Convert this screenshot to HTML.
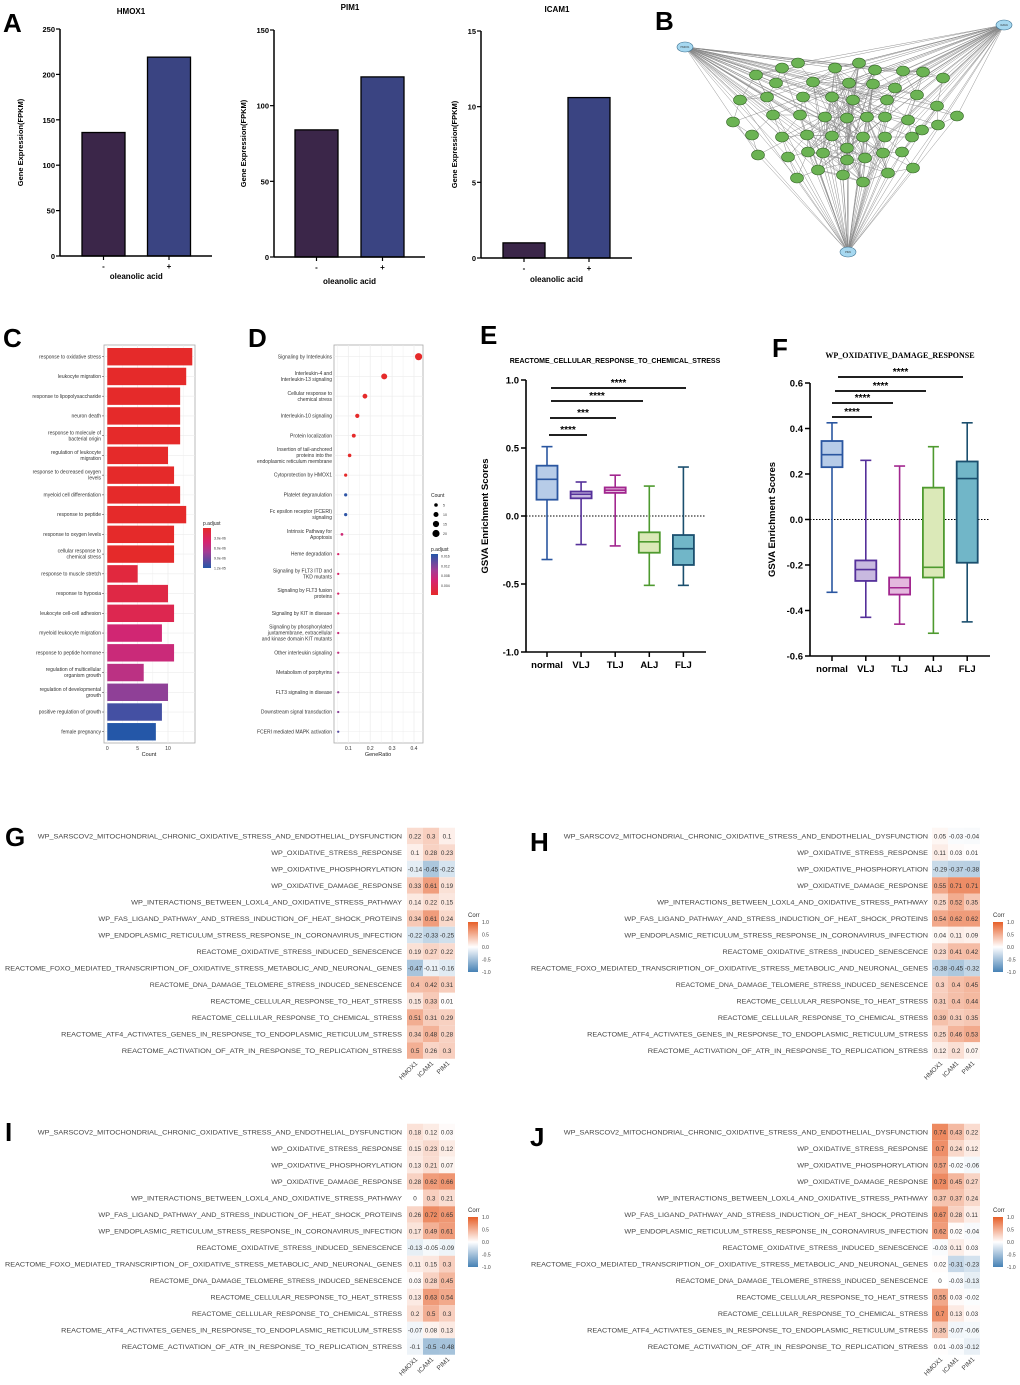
<!DOCTYPE html>
<html><head><meta charset="utf-8">
<style>
html,body{margin:0;padding:0;background:#fff;}
svg{display:block;font-family:"Liberation Sans",Arial,sans-serif;}
</style></head>
<body>
<svg id="fig" width="1020" height="1385" viewBox="0 0 1020 1385" xmlns="http://www.w3.org/2000/svg">
<defs>
<linearGradient id="gradC" x1="0" y1="0" x2="0" y2="1">
<stop offset="0" stop-color="#e52a2a"/><stop offset="0.35" stop-color="#d62470"/><stop offset="0.6" stop-color="#a33c94"/><stop offset="1" stop-color="#2457a8"/>
</linearGradient>
<linearGradient id="gradD" x1="0" y1="1" x2="0" y2="0">
<stop offset="0" stop-color="#e52a2a"/><stop offset="0.35" stop-color="#d62470"/><stop offset="0.6" stop-color="#a33c94"/><stop offset="1" stop-color="#2457a8"/>
</linearGradient>
<linearGradient id="gradCorr" x1="0" y1="0" x2="0" y2="1">
<stop offset="0" stop-color="#e65f28"/><stop offset="0.5" stop-color="#ffffff"/><stop offset="1" stop-color="#4682b4"/>
</linearGradient>
</defs>
</svg>
<script>
// ---------- DATA ----------
const aGenes=['HMOX1','PIM1','ICAM1'];
const aCats=['-','+'];
const aHmox=[136,219];
const aPim=[84,119];
const aIcam=[1,10.6];
const aTicksHmox=[0,50,100,150,200,250];
const aTicksPim=[0,50,100,150];
const aTicksIcam=[0,5,10,15];

const cTerms=[['response to oxidative stress'],['leukocyte migration'],['response to lipopolysaccharide'],['neuron death'],['response to molecule of','bacterial origin'],['regulation of leukocyte','migration'],['response to decreased oxygen','levels'],['myeloid cell differentiation'],['response to peptide'],['response to oxygen levels'],['cellular response to','chemical stress'],['response to muscle stretch'],['response to hypoxia'],['leukocyte cell-cell adhesion'],['myeloid leukocyte migration'],['response to peptide hormone'],['regulation of multicellular','organism growth'],['regulation of developmental','growth'],['positive regulation of growth'],['female pregnancy']];
const cCounts=[14,13,12,12,12,10,11,12,13,11,11,5,10,11,9,11,6,10,9,8];
const cPadj=[1e-6,1e-6,1e-6,1e-6,1e-6,1e-6,1e-6,1e-6,1e-6,1e-6,1e-6,2.6e-6,3e-6,3.6e-6,5.6e-6,6e-6,6.8e-6,8.8e-6,1.14e-5,1.25e-5];
const cTicks=[0,5,10];
const cLegTicks=['3.0e-06','6.0e-06','9.0e-06','1.2e-05'];

const dTerms=[['Signaling by Interleukins'],['Interleukin-4 and','Interleukin-13 signaling'],['Cellular response to','chemical stress'],['Interleukin-10 signaling'],['Protein localization'],['Insertion of tail-anchored','proteins into the','endoplasmic reticulum membrane'],['Cytoprotection by HMOX1'],['Platelet degranulation'],['Fc epsilon receptor (FCERI)','signaling'],['Intrinsic Pathway for','Apoptosis'],['Heme degradation'],['Signaling by FLT3 ITD and','TKD mutants'],['Signaling by FLT3 fusion','proteins'],['Signaling by KIT in disease'],['Signaling by phosphorylated','juxtamembrane, extracellular','and kinase domain KIT mutants'],['Other interleukin signaling'],['Metabolism of porphyrins'],['FLT3 signaling in disease'],['Downstream signal transduction'],['FCERI mediated MAPK activation']];
const dRatio=[0.421,0.264,0.176,0.141,0.125,0.106,0.088,0.088,0.088,0.071,0.054,0.054,0.054,0.054,0.054,0.054,0.054,0.054,0.054,0.054];
const dCount=[20,14,9,7,6,5,4,4,4,3,2,2,2,2,2,2,2,2,2,2];
const dPadj=[0.002,0.002,0.002,0.002,0.002,0.002,0.002,0.017,0.017,0.008,0.007,0.007,0.007,0.007,0.0085,0.009,0.0115,0.012,0.0125,0.015];
const dTicks=[0.1,0.2,0.3,0.4];
const dCountLeg=[5,10,15,20];
const dPadjLeg=[0.016,0.012,0.008,0.004];

const boxCats=['normal','VLJ','TLJ','ALJ','FLJ'];
const eMin=[-0.32,-0.21,-0.22,-0.51,-0.51];
const eQ1=[0.12,0.13,0.17,-0.27,-0.36];
const eMed=[0.27,0.16,0.19,-0.19,-0.24];
const eQ3=[0.37,0.18,0.21,-0.12,-0.14];
const eMax=[0.51,0.25,0.30,0.22,0.36];
const eTicks=[1.0,0.5,0.0,-0.5,-1.0];
const fMin=[-0.32,-0.43,-0.46,-0.50,-0.45];
const fQ1=[0.23,-0.27,-0.33,-0.255,-0.19];
const fMed=[0.285,-0.22,-0.30,-0.21,0.18];
const fQ3=[0.345,-0.18,-0.255,0.14,0.255];
const fMax=[0.425,0.26,0.235,0.32,0.425];
const fTicks=[0.6,0.4,0.2,0.0,-0.2,-0.4,-0.6];
const eSig=[[0,1,'****'],[0,2,'***'],[0,3,'****'],[0,4,'****']];
const fSig=[[0,1,'****'],[0,2,'****'],[0,3,'****'],[0,4,'****']];

const hmRows=['WP_SARSCOV2_MITOCHONDRIAL_CHRONIC_OXIDATIVE_STRESS_AND_ENDOTHELIAL_DYSFUNCTION','WP_OXIDATIVE_STRESS_RESPONSE','WP_OXIDATIVE_PHOSPHORYLATION','WP_OXIDATIVE_DAMAGE_RESPONSE','WP_INTERACTIONS_BETWEEN_LOXL4_AND_OXIDATIVE_STRESS_PATHWAY','WP_FAS_LIGAND_PATHWAY_AND_STRESS_INDUCTION_OF_HEAT_SHOCK_PROTEINS','WP_ENDOPLASMIC_RETICULUM_STRESS_RESPONSE_IN_CORONAVIRUS_INFECTION','REACTOME_OXIDATIVE_STRESS_INDUCED_SENESCENCE','REACTOME_FOXO_MEDIATED_TRANSCRIPTION_OF_OXIDATIVE_STRESS_METABOLIC_AND_NEURONAL_GENES','REACTOME_DNA_DAMAGE_TELOMERE_STRESS_INDUCED_SENESCENCE','REACTOME_CELLULAR_RESPONSE_TO_HEAT_STRESS','REACTOME_CELLULAR_RESPONSE_TO_CHEMICAL_STRESS','REACTOME_ATF4_ACTIVATES_GENES_IN_RESPONSE_TO_ENDOPLASMIC_RETICULUM_STRESS','REACTOME_ACTIVATION_OF_ATR_IN_RESPONSE_TO_REPLICATION_STRESS'];
const hmCols=['HMOX1','ICAM1','PIM1'];
const gVals=[[0.22,0.3,0.1],[0.1,0.28,0.23],[-0.14,-0.45,-0.22],[0.33,0.61,0.19],[0.14,0.22,0.15],[0.34,0.61,0.24],[-0.22,-0.33,-0.25],[0.19,0.27,0.22],[-0.47,-0.11,-0.16],[0.4,0.42,0.31],[0.15,0.33,0.01],[0.51,0.31,0.29],[0.34,0.48,0.28],[0.5,0.26,0.3]];
const hVals=[[0.05,-0.03,-0.04],[0.11,0.03,0.01],[-0.29,-0.37,-0.38],[0.55,0.71,0.71],[0.25,0.52,0.35],[0.54,0.62,0.62],[0.04,0.11,0.09],[0.23,0.41,0.42],[-0.38,-0.45,-0.32],[0.3,0.4,0.45],[0.31,0.4,0.44],[0.39,0.31,0.35],[0.25,0.46,0.53],[0.12,0.2,0.07]];
const iVals=[[0.18,0.12,0.03],[0.15,0.23,0.12],[0.13,0.21,0.07],[0.28,0.62,0.66],[0,0.3,0.21],[0.26,0.72,0.65],[0.17,0.49,0.61],[-0.13,-0.05,-0.09],[0.11,0.15,0.3],[0.03,0.28,0.45],[0.13,0.63,0.54],[0.2,0.5,0.3],[-0.07,0.08,0.13],[-0.1,-0.5,-0.48]];
const jVals=[[0.74,0.43,0.22],[0.7,0.24,0.12],[0.57,-0.02,-0.06],[0.73,0.45,0.27],[0.37,0.37,0.24],[0.67,0.28,0.11],[0.62,0.02,-0.04],[-0.03,0.11,0.03],[0.02,-0.31,-0.23],[0,-0.03,-0.13],[0.55,0.03,-0.02],[0.7,0.13,0.03],[0.35,-0.07,-0.06],[0.01,-0.03,-0.12]];
const corrLeg=[1.0,0.5,0.0,-0.5,-1.0];

// ---------- HELPERS ----------
const NS='http://www.w3.org/2000/svg';
const svg=document.getElementById('fig');
function mk(tag,attrs,name,parent,text){
  const el=document.createElementNS(NS,tag);
  for(const k in attrs) el.setAttribute(k,attrs[k]);
  
  
  if(text!==undefined) el.textContent=text;
  (parent||svg).appendChild(el);
  return el;
}
function grp(name){return mk('g',{},name);}
function panelLetter(t,x,y){mk('text',{x:x,y:y,'font-size':26,'font-weight':'bold',fill:'#000'},'panel-label-'+t.toLowerCase(),null,t);}
function lerp(a,b,t){return a+(b-a)*t;}
function hex(c){return [parseInt(c.substr(1,2),16),parseInt(c.substr(3,2),16),parseInt(c.substr(5,2),16)];}
const stops=[[0,'#e52a2a'],[0.35,'#d62470'],[0.6,'#a33c94'],[1,'#2457a8']];
function ramp(t){
  t=Math.max(0,Math.min(1,t));
  for(let i=0;i<stops.length-1;i++){
    if(t<=stops[i+1][0]){
      const u=(t-stops[i][0])/(stops[i+1][0]-stops[i][0]);
      const a=hex(stops[i][1]),b=hex(stops[i+1][1]);
      return 'rgb('+a.map((v,k)=>Math.round(lerp(v,b[k],u))).join(',')+')';
    }
  }
  return stops[3][1];
}

// ---------- PANEL A ----------
panelLetter('A',3,32);
function barChart(gene,vals,ticks,cfg){
  const g=grp('bar-chart-'+gene.toLowerCase());
  const max=ticks[ticks.length-1];
  const y=v=>cfg.bot-(v/max)*(cfg.bot-cfg.top);
  mk('text',{x:cfg.tx,y:cfg.ty,'font-size':8,'font-weight':'bold','text-anchor':'middle'},'chart-title',g,gene);
  vals.forEach((v,i)=>{
    mk('rect',{x:cfg.bx[i],y:y(v),width:cfg.bw,height:cfg.bot-y(v),fill:i===0?'#3b2649':'#3a4482',stroke:'#000','stroke-width':1.3},'bar-'+(i===0?'minus':'plus'),g);
    mk('line',{x1:cfg.bx[i]+cfg.bw/2,x2:cfg.bx[i]+cfg.bw/2,y1:cfg.bot,y2:cfg.bot+4,stroke:'#000','stroke-width':1.2},'x-tick',g);
    mk('text',{x:cfg.bx[i]+cfg.bw/2,y:cfg.bot+13,'font-size':8,'font-weight':'bold','text-anchor':'middle'},'x-tick-label',g,aCats[i]);
  });
  mk('line',{x1:cfg.ax,x2:cfg.ax,y1:cfg.top,y2:cfg.bot,stroke:'#000','stroke-width':1.5},'y-axis',g);
  mk('line',{x1:cfg.ax,x2:cfg.right,y1:cfg.bot,y2:cfg.bot,stroke:'#000','stroke-width':1.5},'x-axis',g);
  ticks.forEach(t=>{
    mk('line',{x1:cfg.ax-4,x2:cfg.ax,y1:y(t),y2:y(t),stroke:'#000','stroke-width':1.2},'y-tick',g);
    mk('text',{x:cfg.ax-5,y:y(t)+3,'font-size':7.5,'font-weight':'bold','text-anchor':'end'},'y-tick-label',g,String(t));
  });
  mk('text',{x:(cfg.bx[0]+cfg.bx[1]+cfg.bw)/2,y:cfg.xly,'font-size':8,'font-weight':'bold','text-anchor':'middle'},'x-axis-title',g,'oleanolic acid');
  mk('text',{x:0,y:0,'font-size':7.5,'font-weight':'bold','text-anchor':'middle',transform:'translate('+cfg.ytx+','+(cfg.top+cfg.bot)/2+') rotate(-90)'},'y-axis-title',g,'Gene Expression(FPKM)');
}
barChart(aGenes[0],aHmox,aTicksHmox,{ax:60,top:29,bot:256,right:212,bx:[82,147.5],bw:43,tx:131,ty:14,ytx:23,xly:279});
barChart(aGenes[1],aPim,aTicksPim,{ax:274,top:30,bot:257,right:425,bx:[295,361],bw:43,tx:350,ty:10,ytx:246,xly:284});
barChart(aGenes[2],aIcam,aTicksIcam,{ax:481,top:31,bot:258,right:632,bx:[503,568],bw:42,tx:557,ty:12,ytx:457,xly:282});

// ---------- PANEL B (network) ----------
panelLetter('B',655,30);
(function(){
  const g=grp('ppi-network');
  const hubs=[['HMOX1',685,47],['ICAM1',1004,25],['PIM1',848,252]];
  const nodes=[[798,63],[782,68],[835,68],[859,63],[756,75],[813,82],[776,83],[849,83],[873,84],[875,70],[903,71],[923,72],[943,78],[895,88],[740,100],[767,97],[803,97],[832,97],[853,100],[887,100],[917,95],[937,106],[957,116],[733,122],[773,115],[800,115],[825,117],[847,118],[867,117],[885,117],[908,120],[922,130],[938,125],[752,135],[782,137],[807,135],[832,136],[863,137],[885,137],[912,137],[758,155],[788,157],[808,152],[823,153],[847,148],[847,160],[865,158],[883,153],[902,152],[797,178],[818,170],[843,175],[863,182],[888,173],[913,168]];
  const eg=mk('g',{stroke:'#555','stroke-width':0.45,opacity:0.7},'network-edges',g);
  nodes.forEach((n,i)=>{
    if(i%5!==3) mk('line',{x1:hubs[0][1],y1:hubs[0][2],x2:n[0],y2:n[1]},'edge',eg);
    if(i%4!==1) mk('line',{x1:hubs[1][1],y1:hubs[1][2],x2:n[0],y2:n[1]},'edge',eg);
    if(i%3!==0||n[1]>140) mk('line',{x1:hubs[2][1],y1:hubs[2][2],x2:n[0],y2:n[1]},'edge',eg);
    nodes.forEach((m,j)=>{
      if(j>i){const d=Math.hypot(m[0]-n[0],m[1]-n[1]);
        const central=Math.abs(n[0]-845)<40&&Math.abs(m[0]-845)<45;
        if(d<30||(central&&(i+j)%3===0)) mk('line',{x1:n[0],y1:n[1],x2:m[0],y2:m[1]},'edge',eg);}
    });
  });
  nodes.forEach(n=>{
    mk('ellipse',{cx:n[0],cy:n[1],rx:6.5,ry:5,fill:'#6bb353',stroke:'#2f5e22','stroke-width':0.6},'gene-node',g);
  });
  hubs.forEach(h=>{
    mk('ellipse',{cx:h[1],cy:h[2],rx:8,ry:5,fill:'#a6d8f0',stroke:'#3a6f8f','stroke-width':0.6},'hub-node-'+h[0].toLowerCase(),g);
    mk('text',{x:h[1],y:h[2]+1,'font-size':2.5,'text-anchor':'middle',fill:'#333'},'hub-label',g,h[0]);
  });
})();

// ---------- PANEL C ----------
panelLetter('C',3,347);
(function(){
  const g=grp('go-enrichment-barplot');
  const L=104,R=195,T=345,B=743,x0=107.3,px=6.07,y0=356.7,dy=19.74;
  const x=v=>x0+v*px;
  mk('rect',{x:L,y:T,width:R-L,height:B-T,fill:'#fff',stroke:'#aaa','stroke-width':0.8},'plot-frame',g);
  [0,2.5,5,7.5,10,12.5].forEach(v=>mk('line',{x1:x(v),x2:x(v),y1:T,y2:B,stroke:'#ececec','stroke-width':v%5===0?0.7:0.4},'grid-line',g));
  cCounts.forEach((c,i)=>{
    const yc=y0+i*dy;
    mk('line',{x1:L,x2:R,y1:yc,y2:yc,stroke:'#ececec','stroke-width':0.6},'grid-line',g);
    mk('rect',{x:x(0),y:yc-8.7,width:x(c)-x(0),height:17.4,fill:ramp((cPadj[i]-1.5e-6)/1.1e-5)},'bar-'+i,g);
    const lines=cTerms[i];
    lines.forEach((t,k)=>mk('text',{x:L-3,y:yc+1.6+(k-(lines.length-1)/2)*6,'font-size':5,'text-anchor':'end',fill:'#333'},'term-label',g,t));
    mk('line',{x1:L-2,x2:L,y1:yc,y2:yc,stroke:'#333','stroke-width':0.5},'y-tick',g);
  });
  cTicks.forEach(t=>mk('text',{x:x(t),y:B+7,'font-size':5,'text-anchor':'middle',fill:'#333'},'x-tick-label',g,String(t)));
  mk('text',{x:149,y:B+13,'font-size':5.5,'text-anchor':'middle',fill:'#222'},'x-axis-title',g,'Count');
  mk('text',{x:203,y:525,'font-size':5,fill:'#222'},'legend-title',g,'p.adjust');
  mk('rect',{x:203,y:528,width:8,height:40,fill:'url(#gradC)'},'legend-colorbar',g);
  cLegTicks.forEach((t,k)=>mk('text',{x:214,y:539.5+k*10,'font-size':3.5,fill:'#333'},'legend-label',g,t));
})();

// ---------- PANEL D ----------
panelLetter('D',248,347);
(function(){
  const g=grp('reactome-dotplot');
  const L=334,R=423,T=345,B=743,x0=326.4,px=219,y0=356.7,dy=19.74;
  const x=v=>x0+v*px;
  mk('rect',{x:L,y:T,width:R-L,height:B-T,fill:'#fff',stroke:'#aaa','stroke-width':0.8},'plot-frame',g);
  [0.05,0.1,0.15,0.2,0.25,0.3,0.35,0.4].forEach((v,k)=>mk('line',{x1:x(v),x2:x(v),y1:T,y2:B,stroke:'#ececec','stroke-width':k%2?0.7:0.4},'grid-line',g));
  dRatio.forEach((r,i)=>{
    const yc=y0+i*dy;
    mk('line',{x1:L,x2:R,y1:yc,y2:yc,stroke:'#ececec','stroke-width':0.6},'grid-line',g);
    mk('circle',{cx:x(r),cy:yc,r:Math.sqrt(dCount[i])*0.8,fill:ramp((dPadj[i]-0.002)/0.0155)},'dot-'+i,g);
    const lines=dTerms[i];
    lines.forEach((t,k)=>mk('text',{x:L-2,y:yc+1.6+(k-(lines.length-1)/2)*6,'font-size':5,'text-anchor':'end',fill:'#333'},'term-label',g,t));
  });
  dTicks.forEach(t=>mk('text',{x:x(t),y:B+7,'font-size':5,'text-anchor':'middle',fill:'#333'},'x-tick-label',g,String(t)));
  mk('text',{x:378,y:B+13,'font-size':5.5,'text-anchor':'middle',fill:'#222'},'x-axis-title',g,'GeneRatio');
  mk('text',{x:431,y:497,'font-size':5,fill:'#222'},'legend-count-title',g,'Count');
  dCountLeg.forEach((c,k)=>{
    mk('circle',{cx:436,cy:505+k*9.5,r:Math.sqrt(c)*0.8,fill:'#000'},'legend-size-dot',g);
    mk('text',{x:443,y:506.5+k*9.5,'font-size':3.5,fill:'#333'},'legend-size-label',g,String(c));
  });
  mk('text',{x:431,y:551,'font-size':5,fill:'#222'},'legend-padj-title',g,'p.adjust');
  mk('rect',{x:431,y:554,width:7,height:41,fill:'url(#gradD)'},'legend-colorbar',g);
  dPadjLeg.forEach((t,k)=>mk('text',{x:441,y:557.5+k*9.8,'font-size':3.5,fill:'#333'},'legend-label',g,String(t)));
})();

// ---------- PANELS E / F (box plots) ----------
const boxStroke=['#2a56a0','#55309a','#a2278f','#4e9a2f','#1b4f6e'];
const boxFill=['#b7cce8','#c8b9e0','#e4b9de','#dbe9b8','#71b6c8'];
function boxPlot(name,mn,q1,md,q3,mx,ticks,sig,cfg){
  const g=grp(name);
  const y=v=>cfg.zero-v*cfg.scale;
  const cx=i=>cfg.c0+i*cfg.step;
  mk('text',{x:cfg.tx,y:cfg.ty,'font-size':cfg.tfs,'font-weight':'bold','text-anchor':'middle','font-family':cfg.serif?'"Liberation Serif",serif':'"Liberation Sans",sans-serif'},'chart-title',g,cfg.title);
  mk('line',{x1:cfg.ax,x2:cfg.right,y1:y(0),y2:y(0),stroke:'#000','stroke-width':1,'stroke-dasharray':'1.5,1.5'},'zero-line',g);
  boxCats.forEach((c,i)=>{
    const s=boxStroke[i];
    mk('line',{x1:cx(i),x2:cx(i),y1:y(mx[i]),y2:y(mn[i]),stroke:s,'stroke-width':1.6},'whisker',g);
    mk('line',{x1:cx(i)-5.5,x2:cx(i)+5.5,y1:y(mx[i]),y2:y(mx[i]),stroke:s,'stroke-width':1.6},'whisker-cap',g);
    mk('line',{x1:cx(i)-5.5,x2:cx(i)+5.5,y1:y(mn[i]),y2:y(mn[i]),stroke:s,'stroke-width':1.6},'whisker-cap',g);
    mk('rect',{x:cx(i)-10.5,y:y(q3[i]),width:21,height:y(q1[i])-y(q3[i]),fill:boxFill[i],stroke:s,'stroke-width':1.8},'box-'+c.toLowerCase(),g);
    mk('line',{x1:cx(i)-10.5,x2:cx(i)+10.5,y1:y(md[i]),y2:y(md[i]),stroke:s,'stroke-width':1.6},'median-line',g);
    mk('line',{x1:cx(i),x2:cx(i),y1:cfg.bot,y2:cfg.bot+5,stroke:'#000','stroke-width':1.5},'x-tick',g);
    mk('text',{x:cx(i),y:cfg.bot+16,'font-size':9.5,'font-weight':'bold','text-anchor':'middle'},'x-tick-label',g,c);
  });
  mk('line',{x1:cfg.ax,x2:cfg.ax,y1:cfg.top,y2:cfg.bot,stroke:'#000','stroke-width':1.6},'y-axis',g);
  mk('line',{x1:cfg.ax,x2:cfg.right,y1:cfg.bot,y2:cfg.bot,stroke:'#000','stroke-width':1.6},'x-axis',g);
  ticks.forEach(t=>{
    mk('line',{x1:cfg.ax-5,x2:cfg.ax,y1:y(t),y2:y(t),stroke:'#000','stroke-width':1.5},'y-tick',g);
    mk('text',{x:cfg.ax-7,y:y(t)+3.5,'font-size':9.5,'font-weight':'bold','text-anchor':'end'},'y-tick-label',g,t.toFixed(1));
  });
  mk('text',{x:0,y:0,'font-size':9.5,'font-weight':'bold','text-anchor':'middle',transform:'translate('+cfg.ytx+','+(cfg.top+cfg.bot)/2+') rotate(-90)'},'y-axis-title',g,'GSVA Enrichment Scores');
  sig.forEach((s,k)=>{
    const yy=cfg.sigY[k];
    mk('line',{x1:cx(s[0])+cfg.sigOff[k],x2:cfg.sigEnd[k],y1:yy,y2:yy,stroke:'#000','stroke-width':1.8},'significance-bar',g);
    mk('text',{x:(cx(s[0])+cfg.sigOff[k]+cfg.sigEnd[k])/2,y:yy-2,'font-size':10,'font-weight':'bold','text-anchor':'middle'},'significance-stars',g,s[2]);
  });
}
panelLetter('E',480,344);
boxPlot('boxplot-chemical-stress',eMin,eQ1,eMed,eQ3,eMax,eTicks,eSig,{title:'REACTOME_CELLULAR_RESPONSE_TO_CHEMICAL_STRESS',tx:615,ty:363,tfs:7,serif:false,ax:526,right:706,top:380,bot:652,zero:516,scale:136,c0:547,step:34.1,ytx:488,sigY:[435,418,401,388],sigOff:[2,3,4,4],sigEnd:[587,616,643,686]});
panelLetter('F',772,357);
boxPlot('boxplot-oxidative-damage',fMin,fQ1,fMed,fQ3,fMax,fTicks,fSig,{title:'WP_OXIDATIVE_DAMAGE_RESPONSE',tx:900,ty:358,tfs:8,serif:true,ax:810,right:990,top:383,bot:656,zero:519.5,scale:227.5,c0:832,step:33.8,ytx:775,sigY:[417,403,391,377],sigOff:[0,0,3,6],sigEnd:[872,893,926,963]});

// ---------- HEATMAPS G-J ----------
function corrColor(v){
  const lo=[70,130,180],hi=[230,95,40],w=[255,255,255];
  const c=v>=0?hi:lo,t=Math.min(1,Math.abs(v));
  return 'rgb('+w.map((x,k)=>Math.round(lerp(x,c[k],t))).join(',')+')';
}
function heatmap(letter,vals,cfg){
  panelLetter(letter,cfg.lx,cfg.ly);
  const g=grp('heatmap-'+letter.toLowerCase());
  const cw=16,rh=16.5;
  hmRows.forEach((r,i)=>{
    const yc=cfg.y0+i*rh;
    mk('text',{x:cfg.labEnd,y:yc+2.5,'font-size':6.8,'text-anchor':'end',fill:'#444',textLength:r.length*4.67,lengthAdjust:'spacingAndGlyphs'},'row-label',g,r);
    vals[i].forEach((v,j)=>{
      const x=cfg.x0+j*cw;
      mk('rect',{x:x,y:yc-rh/2,width:cw,height:rh,fill:corrColor(v)},'cell',g);
      mk('text',{x:x+cw/2,y:yc+2.3,'font-size':6.3,'text-anchor':'middle',fill:'#333'},'cell-value',g,String(v));
    });
  });
  const yb=cfg.y0+13*rh+rh/2;
  hmCols.forEach((c,j)=>{
    const xc=cfg.x0+j*cw+cw/2+3;
    mk('text',{x:0,y:0,'font-size':6.5,'text-anchor':'end',fill:'#444',transform:'translate('+xc+','+(yb+5)+') rotate(-45)'},'column-label',g,c);
  });
  mk('text',{x:cfg.legX,y:cfg.legY,'font-size':6,fill:'#333'},'legend-title',g,'Corr');
  mk('rect',{x:cfg.legX,y:cfg.legY+5,width:10,height:50,fill:'url(#gradCorr)'},'legend-colorbar',g);
  corrLeg.forEach((t,k)=>mk('text',{x:cfg.legX+14,y:cfg.legY+7+k*12.5,'font-size':5,fill:'#444'},'legend-label',g,t.toFixed(1)));
}
heatmap('G',gVals,{lx:5,ly:846,y0:836,labEnd:402,x0:407,legX:468,legY:917});
heatmap('H',hVals,{lx:530,ly:851,y0:836,labEnd:928,x0:932,legX:993,legY:917});
heatmap('I',iVals,{lx:5,ly:1141,y0:1132,labEnd:402,x0:407,legX:468,legY:1212});
heatmap('J',jVals,{lx:530,ly:1146,y0:1132,labEnd:928,x0:932,legX:993,legY:1212});
</script>
</body></html>
